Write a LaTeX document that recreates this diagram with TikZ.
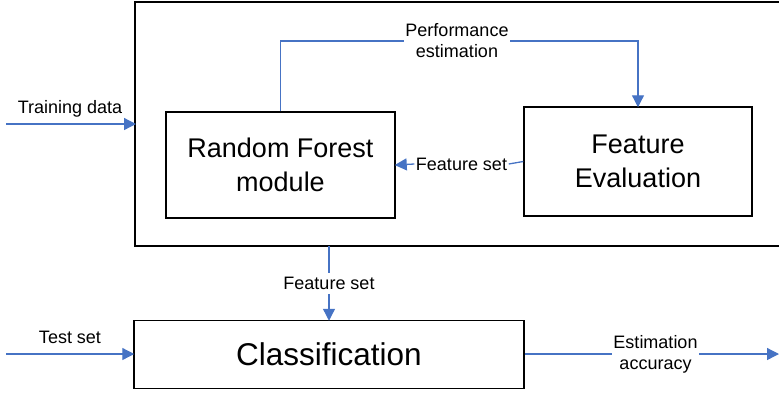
\documentclass[tikz,border=0pt]{standalone}
\usepackage{fontspec}
\setmainfont{Liberation Sans}
\usetikzlibrary{arrows.meta}
\definecolor{lineblue}{RGB}{70,115,196}
\begin{document}
\begin{tikzpicture}
[
	x=1pt,y=-1pt,
	bx/.style={rectangle,draw,line width=1.5,inner sep=0},
	big/.style={font=\fontsize{27}{34}\selectfont,align=center},
	lbl/.style={font=\fontsize{18}{21}\selectfont,align=center,inner sep=1.5},
	ln/.style={draw=lineblue,line width=1.3},
	ar/.style={ln,-{Triangle[length=12pt,width=12pt]},shorten >=-1pt}
]
\useasboundingbox (0,0) rectangle (779,392);

\coordinate (otr) at (780,2);
\coordinate (otl) at (135,2);
\coordinate (obl) at (135,246);
\coordinate (obr) at (780,246);
\draw[line width=1.5] (otr) -- (otl) -- (obl) -- (obr);

\node[bx,big,minimum width=229,minimum height=106] (rf) at (280.5,165) {Random Forest\\module};
\node[bx,big,minimum width=228,minimum height=109] (fe) at (638,161.5) {Feature\\Evaluation};
\node[bx,font=\fontsize{31.5}{36}\selectfont,minimum width=390,minimum height=68] (cls) at (329,354.5) {Classification};

\node[lbl] (perf) at (457,41) {Performance\\estimation};
\draw[ln] (rf.north) |- (perf.west);
\draw[ar] (perf.east) -| (fe.north);

\node[lbl] (fs1) at (461.5,164) {Feature set};
\draw[ln] (fe.west) -- (fs1.east);
\draw[ar] (fs1.west) -- (rf.east);

\coordinate (tin0) at (6,124);
\coordinate (tin1) at (135,124);
\node[lbl] (train) at (70,109) {Training data};
\draw[ar] (tin0) -- (tin1);

\coordinate (fsup) at (329,246);
\node[lbl,inner sep=4] (fs2) at (329,283.5) {Feature set};
\draw[ln] (fsup) -- (fs2.north);
\draw[ar] (fs2.south) -- (cls.north);

\coordinate (tst) at (6,354);
\node[lbl] (test) at (70,337) {Test set};
\draw[ar] (tst) -- (tst -| cls.west);

\node[lbl] (est) at (655.5,354) {Estimation\\accuracy};
\coordinate (out) at (779,354);
\draw[ln] (cls.east |- est) -- (est.west);
\draw[ar,shorten >=0pt] (est.east) -- (out);

\end{tikzpicture}
\end{document}
